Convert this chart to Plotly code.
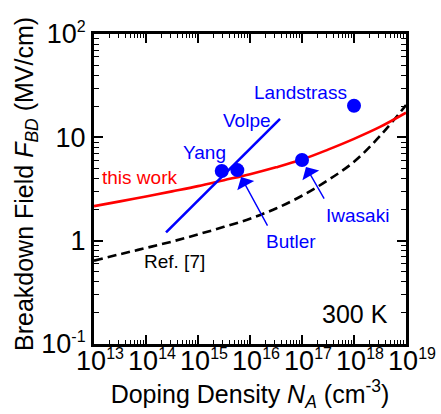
import math
import plotly.graph_objects as go

# Breakdown-field curves vs. acceptor doping (log10 N_A grid, field in MV/cm)
logN_grid = [13, 13.5, 14, 14.5, 15, 15.5, 16, 16.5, 17, 17.5, 18, 18.5, 19]
F_this_work = [2.16, 2.40, 2.68, 3.00, 3.37, 3.85, 4.40, 5.13, 6.1, 7.6, 9.66, 12.6, 17.3]
F_ref7 = [0.64, 0.74, 0.85, 0.98, 1.15, 1.36, 1.63, 2.05, 2.72, 3.85, 5.8, 10.3, 20.5]

# Volpe trend line (end points)
volpe_N = [2.43e14, 3.78e16]
volpe_F = [1.205, 15.1]

# Reported experimental breakdown fields
point_names = ["Yang", "Butler", "Iwasaki", "Landstrass"]
point_N = [2.86e15, 5.7e15, 1.0e17, 1.0e18]
point_F = [4.72, 4.82, 6.03, 20.2]

# Axis ticks
x_decades = [13, 14, 15, 16, 17, 18, 19]
y_decades = [-1, 0, 1, 2]
y_special = {0: "1", 1: "10"}

BLUE = "#0000ff"
RED = "#ff0000"
FONT = "Arial, Liberation Sans, sans-serif"


def power_label(d):
    """10^d with a compact superscript."""
    return '10<sup><span style="font-size:16px">%d</span></sup>' % d


x_ticktext = [power_label(d) for d in x_decades]
y_ticktext = [y_special.get(d, power_label(d)) for d in y_decades]

N_grid = [10 ** v for v in logN_grid]

fig = go.Figure()
fig.add_trace(go.Scatter(x=N_grid, y=F_ref7, mode="lines",
                         line=dict(color="black", width=2.6, dash="9px,5px", shape="spline")))
fig.add_trace(go.Scatter(x=N_grid, y=F_this_work, mode="lines",
                         line=dict(color=RED, width=2.6, shape="spline")))
fig.add_trace(go.Scatter(x=volpe_N, y=volpe_F, mode="lines",
                         line=dict(color=BLUE, width=2.6)))
fig.add_trace(go.Scatter(x=point_N, y=point_F, mode="markers",
                         marker=dict(color=BLUE, size=14, line=dict(width=0))))

# text labels (positions in log10 axis units)
labels = [
    ("Landstrass", 16.98, 1.43, BLUE, 19),
    ("Volpe", 15.94, 1.16, BLUE, 19),
    ("Yang", 15.12, 0.85, BLUE, 19),
    ("this work", 13.88, 0.615, RED, 19),
    ("Iwasaki", 18.06, 0.245, BLUE, 19),
    ("Butler", 16.78, -0.01, BLUE, 19),
    ("Ref. [7]", 14.55, -0.205, "black", 19),
    ("300 K", 18.02, -0.71, "black", 25),
]
annotations = []
for text, lx, ly, col, size in labels:
    annotations.append(dict(x=lx, y=ly, xref="x", yref="y", text=text, showarrow=False,
                            xanchor="center", yanchor="middle",
                            font=dict(family=FONT, size=size, color=col)))

# arrows pointing at Butler and Iwasaki data points
for name, tail in (("Butler", (31, 57)), ("Iwasaki", (23, 40))):
    i = point_names.index(name)
    annotations.append(dict(x=math.log10(point_N[i]), y=math.log10(point_F[i]),
                            xref="x", yref="y", text="", showarrow=True,
                            ax=tail[0], ay=tail[1], standoff=8,
                            arrowhead=1, arrowsize=2.3, arrowwidth=1.4, arrowcolor=BLUE))

# vertical axis title
annotations.append(dict(x=-0.218, y=0.516, xref="paper", yref="paper", showarrow=False,
                        text="Breakdown Field <i>F</i><sub><i>BD</i></sub> (MV/cm)",
                        textangle=-90, xanchor="center", yanchor="middle",
                        font=dict(family=FONT, size=25, color="black")))

x_minor = [m * 10 ** d for d in x_decades[:-1] for m in range(2, 10)]
y_minor = [m * 10 ** d for d in y_decades[:-1] for m in range(2, 10)]

axis_common = dict(type="log", showline=True, linewidth=3, linecolor="black",
                   mirror="allticks", ticks="inside", ticklen=9, tickwidth=1.5,
                   tickcolor="black", showgrid=False, zeroline=False,
                   tickmode="array", ticklabeloverflow="allow", tickangle=0,
                   automargin=False,
                   tickfont=dict(family=FONT, size=27, color="black"))

fig.update_layout(
    width=441, height=414,
    margin=dict(l=94, r=35, t=34, b=70),
    plot_bgcolor="white", paper_bgcolor="white",
    showlegend=False,
    font=dict(family=FONT, color="black"),
    annotations=annotations,
    xaxis=dict(axis_common, range=[13, 19],
               tickvals=[10 ** d for d in x_decades], ticktext=x_ticktext,
               ticklabelshift=6, ticklabelstandoff=-9,
               minor=dict(ticks="inside", ticklen=4, tickwidth=1.2, tickcolor="black",
                          tickmode="array", tickvals=x_minor, showgrid=False),
               title=dict(text="Doping Density <i>N</i><sub><i>A</i></sub> (cm<sup>-3</sup>)",
                          font=dict(family=FONT, size=25), standoff=4)),
    yaxis=dict(axis_common, range=[-1, 2],
               tickvals=[10 ** d for d in y_decades], ticktext=y_ticktext,
               ticklabelstandoff=0,
               minor=dict(ticks="inside", ticklen=5, tickwidth=1.2, tickcolor="black",
                          tickmode="array", tickvals=y_minor, showgrid=False)),
)

fig.write_html("out.html")
